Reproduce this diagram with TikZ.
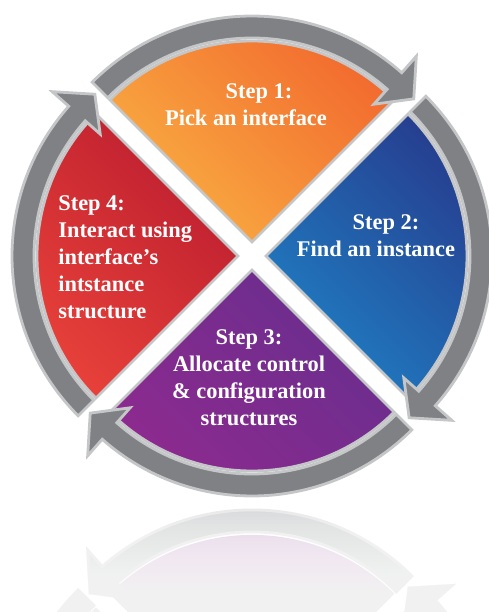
\documentclass[tikz,border=0pt]{standalone}
\usepackage{fontspec}
\setmainfont{Liberation Serif}[BoldFont={Liberation Serif Bold}]
\definecolor{ringgrey}{HTML}{808184}
\definecolor{ringedge}{HTML}{C5C6C8}
\definecolor{orangeA}{HTML}{F9AE42}
\definecolor{orangeB}{HTML}{F26A2E}
\definecolor{blueA}{HTML}{1F7FC4}
\definecolor{blueB}{HTML}{263E8F}
\definecolor{purpleA}{HTML}{8D2A8F}
\definecolor{purpleB}{HTML}{682E8D}
\definecolor{redA}{HTML}{E8413A}
\definecolor{redB}{HTML}{BC1E2F}
\begin{document}
\begin{tikzpicture}[x=0.02cm, y=0.02cm,
    ring/.style={fill=ringgrey, draw=ringedge, line width=1.6pt, line join=miter},
    wedge/.style={draw=ringedge, line width=1.6pt},
    steptext/.style={text=white, inner sep=0pt, align=center,
      font=\fontsize{12.75}{15.3}\selectfont\bfseries}]
    % Riquadro
    \useasboundingbox (-252,256) rectangle (237,-356);

    % Spicchi
    \shade[wedge, top color=orangeB, bottom color=orangeA, shading angle=-45]
      (90:14) -- ++(45:201) arc[start angle=45, end angle=135, radius=201] -- cycle;
    \shade[wedge, top color=blueB, bottom color=blueA, shading angle=-45]
      (0:14) -- ++(-45:201) arc[start angle=-45, end angle=45, radius=201] -- cycle;
    \shade[wedge, top color=purpleB, bottom color=purpleA, shading angle=-45]
      (-90:14) -- ++(-135:201) arc[start angle=-135, end angle=-45, radius=201] -- cycle;
    \shade[wedge, top color=redB, bottom color=redA, shading angle=-45]
      (180:14) -- ++(135:201) arc[start angle=135, end angle=225, radius=201] -- cycle;

    % Frecce circolari
    \foreach \a in {90,0,-90,180}
      \filldraw[ring, shift={(\a:14)}]
        (\a+45:204) arc[start angle=\a+45, end angle=\a-41.5, radius=204]
        -- (\a-41.5:184) -- (\a-48.5:216) -- (\a-41.5:248) -- (\a-41.5:226)
        arc[start angle=\a-41.5, end angle=\a+45, radius=226] -- cycle;

    % Testi
    \node[steptext] (step1) at (-6,151.6) {\hspace*{0.52cm}Step 1:\\Pick an interface};
    \node[steptext] (step2) at (124,20.1) {\hspace*{0.4cm}Step 2:\\Find an instance};
    \node[steptext] (step3) at (-3,-121.4) {Step 3:\\Allocate control\\\& configuration\\structures};
    \node[steptext, align=left, anchor=west] (step4) at (-194,-1.4)
      {Step 4:\\Interact using\\interface’s\\intstance\\structure};

    % Riflesso
    \begin{scope}
      \clip (-252,-247) rectangle (237,-356);
      \begin{scope}[yshift=-9.88cm, yscale=-1]
        \foreach \a/\c in {90/orangeB,0/blueB,-90/purpleA,180/redB}
          \fill[\c!25, shift={(\a:14)}] (0,0) -- (\a-45:201)
            arc[start angle=\a-45, end angle=\a+45, radius=201] -- cycle;
        \foreach \a in {90,0,-90,180}
          \filldraw[ring, fill=ringgrey!32, draw=ringedge!40, shift={(\a:14)}]
            (\a+45:204) arc[start angle=\a+45, end angle=\a-41.5, radius=204]
            -- (\a-41.5:184) -- (\a-48.5:216) -- (\a-41.5:248) -- (\a-41.5:226)
            arc[start angle=\a-41.5, end angle=\a+45, radius=226] -- cycle;
      \end{scope}
      \foreach \i in {0,...,30}
        \fill[white, opacity=0.065] (-252,-250-3.5*\i) rectangle (237,-356);
    \end{scope}
\end{tikzpicture}
\end{document}
